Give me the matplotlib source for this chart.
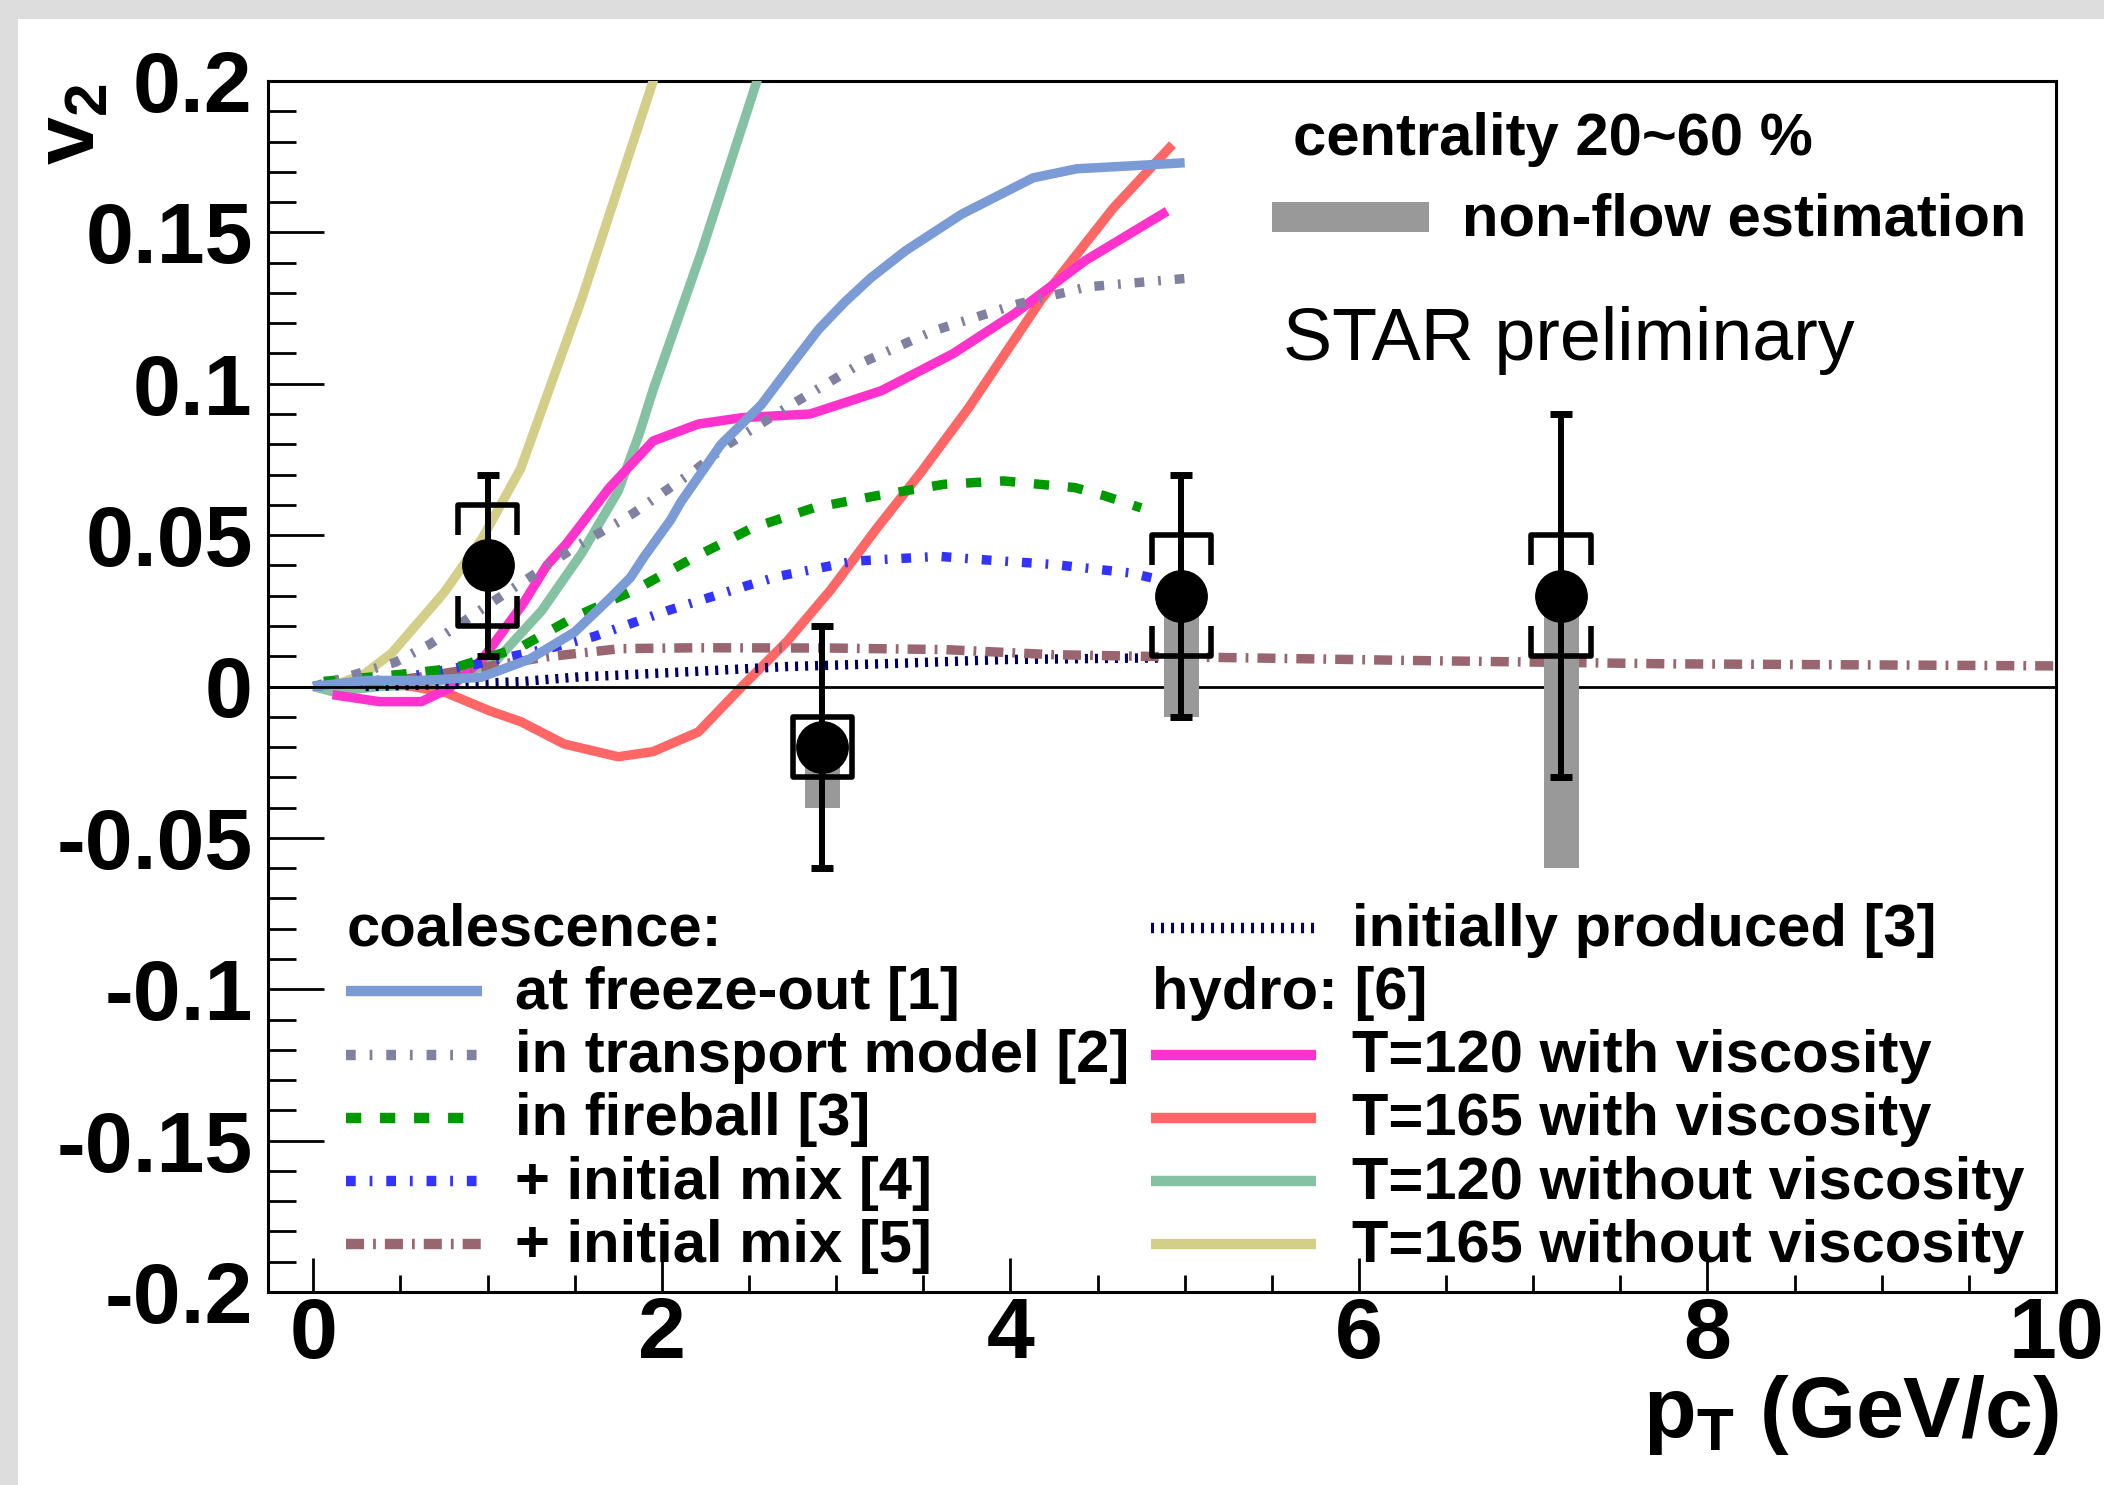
import matplotlib
matplotlib.use("Agg")
import matplotlib.pyplot as plt
from matplotlib.patches import Rectangle
from matplotlib.ticker import MultipleLocator

plt.rcParams['font.family'] = 'Liberation Sans'
plt.rcParams['font.weight'] = 'bold'
plt.rcParams['axes.unicode_minus'] = False
plt.rcParams['lines.scale_dashes'] = False
plt.rcParams['mathtext.fontset'] = 'custom'
plt.rcParams['mathtext.rm'] = 'Liberation Sans:bold'
plt.rcParams['mathtext.it'] = 'Liberation Sans:bold'
plt.rcParams['mathtext.bf'] = 'Liberation Sans:bold'
plt.rcParams['mathtext.default'] = 'rm'

# measured v2 points
pt_x = [1.0, 2.92, 4.98, 7.16]
v2 = [0.04, -0.02, 0.03, 0.03]
stat_err = [0.03, 0.04, 0.04, 0.06]
sys_err = [0.02, 0.01, 0.02, 0.02]
nonflow = [0.0, 0.02, 0.04, 0.09]

# model curves
freeze_x = [0, 0.3, 0.6, 0.96, 1.24, 1.5, 1.7, 1.82, 1.9, 2.05, 2.11, 2.34, 2.57, 2.74, 2.9, 3.05, 3.2, 3.4, 3.72, 4.13, 4.38, 4.7, 5.0]
freeze_y = [0, 0.002, 0.002, 0.003, 0.009, 0.018, 0.029, 0.036, 0.043, 0.055, 0.061, 0.080, 0.093, 0.106, 0.118, 0.127, 0.135, 0.144, 0.156, 0.168, 0.171, 0.172, 0.173]

transport_x = [0, 0.24, 0.47, 0.67, 1.03, 1.24, 1.5, 1.83, 2.18, 2.38, 2.74, 3.15, 3.56, 4.02, 4.44, 5.05]
transport_y = [0, 0.004, 0.008, 0.014, 0.028, 0.036, 0.046, 0.057, 0.071, 0.080, 0.093, 0.107, 0.1175, 0.126, 0.132, 0.135]

fireball_x = [0.06, 0.5, 0.8, 1.19, 1.5, 1.85, 2.18, 2.52, 2.87, 3.23, 3.62, 3.96, 4.37, 4.54, 4.75]
fireball_y = [0.0017, 0.004, 0.006, 0.013, 0.023, 0.032, 0.0425, 0.0524, 0.059, 0.063, 0.0668, 0.0679, 0.0657, 0.063, 0.059]

mix4_x = [0, 0.49, 0.93, 1.38, 1.61, 2.03, 2.47, 2.67, 3.10, 3.59, 3.81, 4.25, 4.69, 4.81]
mix4_y = [0, 0.0027, 0.0073, 0.013, 0.0165, 0.025, 0.033, 0.0364, 0.0414, 0.043, 0.042, 0.0403, 0.0375, 0.0359]

mix5_x = [0.3, 0.6, 1.1, 1.34, 1.76, 2.2, 2.97, 3.62, 4.25, 4.84, 5.42, 6.3, 7.76, 10.0]
mix5_y = [0.001, 0.003, 0.0075, 0.0098, 0.0125, 0.0128, 0.0127, 0.0122, 0.0105, 0.0099, 0.0094, 0.0086, 0.0075, 0.0068]

initial_x = [0.3, 0.86, 1.19, 1.53, 1.70, 2.3, 2.72, 3.38, 3.96, 4.75, 4.9]
initial_y = [0, 0.0008, 0.0016, 0.0032, 0.0036, 0.0053, 0.0066, 0.0077, 0.0089, 0.0094, 0.0094]

t120v_x = [0.11, 0.38, 0.62, 0.78, 0.97, 1.2, 1.34, 1.45, 1.70, 1.95, 2.21, 2.46, 2.85, 3.26, 3.67, 4.02, 4.43, 4.90]
t120v_y = [-0.0027, -0.005, -0.005, -0.0006, 0.009, 0.027, 0.04, 0.047, 0.0657, 0.0811, 0.0867, 0.0888, 0.090, 0.0977, 0.1099, 0.123, 0.1407, 0.157]

t165v_x = [0.45, 0.57, 0.76, 1.01, 1.19, 1.44, 1.75, 1.95, 2.21, 2.46, 2.72, 2.97, 3.23, 3.49, 3.76, 4.18, 4.59, 4.93]
t165v_y = [0.001, 0.0, -0.002, -0.008, -0.0116, -0.019, -0.0232, -0.0215, -0.015, 0.0, 0.015, 0.032, 0.052, 0.071, 0.092, 0.128, 0.158, 0.179]

t120_x = [0.0, 0.11, 0.38, 0.67, 1.04, 1.31, 1.54, 1.75, 1.87, 1.95, 2.23, 2.54, 2.6]
t120_y = [0.0, -0.0017, 0.0, 0.0006, 0.008, 0.025, 0.044, 0.0646, 0.0834, 0.098, 0.144, 0.199, 0.21]

t165_x = [0.0, 0.15, 0.29, 0.45, 0.57, 0.75, 0.97, 1.19, 1.54, 1.95, 2.05]
t165_y = [0.0, 0.001, 0.004, 0.011, 0.019, 0.031, 0.049, 0.072, 0.128, 0.2, 0.218]

yticks = [-0.2, -0.15, -0.1, -0.05, 0, 0.05, 0.1, 0.15, 0.2]
ytick_labels = ['-0.2', '-0.15', '-0.1', '-0.05', '0', '0.05', '0.1', '0.15', '0.2']
xticks = [0, 2, 4, 6, 8, 10]

# styles: (x, y, color, dashes or None)
solid = None
curves = {
    't165': (t165_x, t165_y, '#d4cf88', solid),
    't120': (t120_x, t120_y, '#85c2a4', solid),
    't165v': (t165v_x, t165v_y, '#ff6666', solid),
    't120v': (t120v_x, t120v_y, '#ff33cc', solid),
    'initial': (initial_x, initial_y, '#000066', (2.2, 5.0)),
    'mix5': (mix5_x, mix5_y, '#996670', (13, 6.5, 2, 6.5)),
    'mix4': (mix4_x, mix4_y, '#3333ff', (7, 10, 2, 10)),
    'fireball': (fireball_x, fireball_y, '#009900', (11, 13.5)),
    'transport': (transport_x, transport_y, '#8080a0', (7, 10, 2, 10)),
    'freeze': (freeze_x, freeze_y, '#7b9bd6', solid),
}

W, H = 2104, 1485
fig = plt.figure(figsize=(W / 100, H / 100), dpi=100)
fig.patch.set_facecolor('white')
fig.add_artist(Rectangle((0, 1 - 19 / H), 1, 19 / H, transform=fig.transFigure,
                         facecolor='#dddddd', edgecolor='none'))
fig.add_artist(Rectangle((0, 0), 18 / W, 1, transform=fig.transFigure,
                         facecolor='#dddddd', edgecolor='none'))

ax = fig.add_axes([268 / W, (H - 1292) / H, (2056 - 268) / W, (1292 - 81) / H])
ax.set_xlim(-0.26, 10.0)
ax.set_ylim(-0.2, 0.2)


def draw_line(a, xs, ys, color, dashes, lw):
    if dashes is None:
        a.plot(xs, ys, color=color, lw=lw, solid_capstyle='butt',
               solid_joinstyle='round', zorder=3)
    else:
        a.plot(xs, ys, color=color, lw=lw, dashes=dashes, zorder=3)


for key, (xs, ys, c, d) in curves.items():
    draw_line(ax, xs, ys, c, d, 6.8)

ax.axhline(0, color='black', lw=2, zorder=4)

# non-flow estimation bars
ax.bar(pt_x, [-n for n in nonflow], bottom=v2, width=0.2, color='#999999', zorder=5)

# systematic brackets
half_w = 0.17
leg = 0.01
for x, y, s in zip(pt_x, v2, sys_err):
    hi, lo = y + s, y - s
    ax.plot([x - half_w, x - half_w, x + half_w, x + half_w], [hi - leg, hi, hi, hi - leg],
            color='black', lw=4, zorder=7, solid_capstyle='butt')
    ax.plot([x - half_w, x - half_w, x + half_w, x + half_w], [lo + leg, lo, lo, lo + leg],
            color='black', lw=4, zorder=7, solid_capstyle='butt')

ax.errorbar(pt_x, v2, yerr=stat_err, fmt='o', color='black', ms=37, elinewidth=4.3,
            capsize=8, capthick=5, zorder=8)

# legend, left column
fs = 43
row0 = -0.0798
step = 0.0209
base = -0.0058
ax.text(0.19, row0 + base, 'coalescence:', fontsize=fs, va='baseline', ha='left')
left_entries = [('freeze', 'at freeze-out [1]'), ('transport', 'in transport model [2]'),
                ('fireball', 'in fireball [3]'), ('mix4', '+ initial mix [4]'),
                ('mix5', '+ initial mix [5]')]
for i, (key, lab) in enumerate(left_entries):
    yy = row0 - step * (i + 1)
    _, _, c, d = curves[key]
    draw_line(ax, [0.19, 0.97], [yy, yy], c, d, 7.5)
    ax.text(1.158, yy + base, lab, fontsize=fs, va='baseline', ha='left')

# legend, right column
_, _, c, d = curves['initial']
draw_line(ax, [4.806, 5.751], [row0, row0], c, d, 7.5)
ax.text(5.962, row0 + base, 'initially produced [3]', fontsize=fs, va='baseline', ha='left')
ax.text(4.81, row0 - step + base, 'hydro: [6]', fontsize=fs, va='baseline', ha='left')
right_entries = [('t120v', 'T=120 with viscosity'), ('t165v', 'T=165 with viscosity'),
                 ('t120', 'T=120 without viscosity'), ('t165', 'T=165 without viscosity')]
for i, (key, lab) in enumerate(right_entries):
    yy = row0 - step * (i + 2)
    _, _, c, d = curves[key]
    draw_line(ax, [4.806, 5.751], [yy, yy], c, d, 7.5)
    ax.text(5.962, yy + base, lab, fontsize=fs, va='baseline', ha='left')

# top right annotations
ax.text(5.62, 0.1756, 'centrality 20~60 %', fontsize=fs, va='baseline', ha='left')
ax.add_patch(Rectangle((5.50, 0.150), 0.90, 0.010, facecolor='#999999', edgecolor='none'))
ax.text(6.594, 0.1491, 'non-flow estimation', fontsize=fs, va='baseline', ha='left')
ax.text(5.565, 0.1078, 'STAR preliminary', fontsize=53, fontweight='normal',
        va='baseline', ha='left')

# axes styling
ax.set_xticks(xticks)
ax.set_xticklabels([str(t) for t in xticks])
ax.xaxis.set_minor_locator(MultipleLocator(0.5))
ax.set_yticks(yticks)
ax.set_yticklabels(ytick_labels)
ax.yaxis.set_minor_locator(MultipleLocator(0.01))
ax.tick_params(which='both', direction='in', top=False, right=False, width=2)
ax.tick_params(axis='y', which='major', length=40, pad=11, labelsize=62)
ax.tick_params(axis='y', which='minor', length=20)
ax.tick_params(axis='x', which='major', length=24.5, pad=3, labelsize=62)
ax.tick_params(axis='x', which='minor', length=12)
for sp in ax.spines.values():
    sp.set_linewidth(2.2)

fig.text(32 / W, 1 - 83 / H, 'v$_2$', rotation=90, ha='left', va='top', fontsize=62)
fig.text(2059 / W, (H - 1437) / H, 'p$_T$ (GeV/c)', ha='right', va='baseline', fontsize=62)

fig.savefig('out.png', dpi=100)
